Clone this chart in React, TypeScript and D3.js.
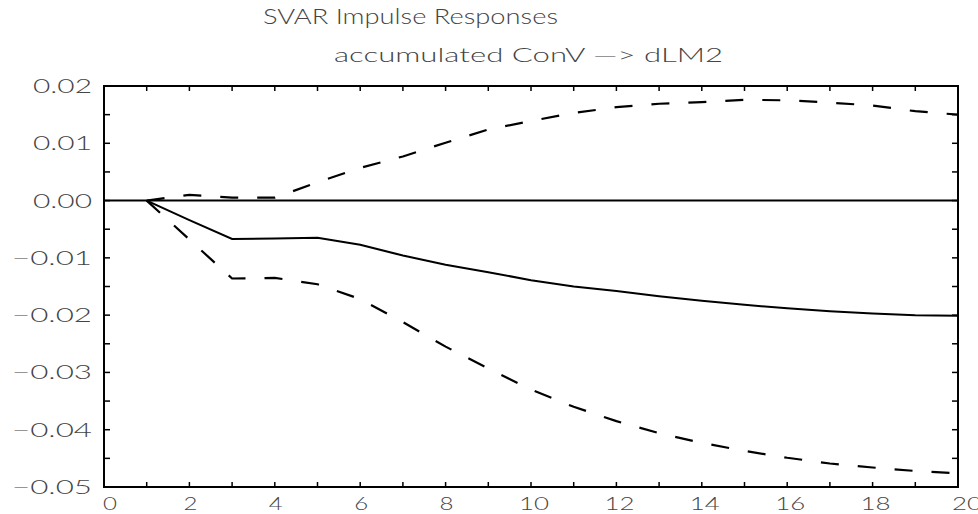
import * as d3 from "d3";
import React from "react";

// impulse response horizon (plotted positions) and estimates
const horizon = [1, 2, 3, 4, 5, 6, 7, 8, 9, 10, 11, 12, 13, 14, 15, 16, 17, 18, 19, 20];
const response = [
  0, -0.0034, -0.0067, -0.0066, -0.0065, -0.0077, -0.0096, -0.0112, -0.0125, -0.0139,
  -0.015, -0.0158, -0.0167, -0.0175, -0.0182, -0.0188, -0.0193, -0.0197, -0.02, -0.0201,
];
const lowerBand = [
  0, -0.0068, -0.0136, -0.0135, -0.0146, -0.0172, -0.0212, -0.0255, -0.0293, -0.033,
  -0.036, -0.0385, -0.0406, -0.0423, -0.0437, -0.0449, -0.0459, -0.0466, -0.0472, -0.0476,
];
const upperBand = [
  0, 0.001, 0.0005, 0.0005, 0.0032, 0.0057, 0.0077, 0.0101, 0.0124, 0.0139,
  0.0153, 0.0163, 0.0169, 0.0172, 0.0176, 0.0175, 0.0171, 0.0166, 0.0156, 0.015,
];
const xTickLabels = [0, 2, 4, 6, 8, 10, 12, 14, 16, 18, 20];
const yTickLabels = [0.02, 0.01, 0.0, -0.01, -0.02, -0.03, -0.04, -0.05];

const App = () => {
  const ref = React.useRef<SVGSVGElement>(null);

  React.useEffect(() => {
    const width = 978,
      height = 514;
    const margin = { top: 86, right: 20, bottom: 27, left: 104 };
    const svg = d3.select(ref.current);
    svg.selectAll("*").remove();
    svg.attr("width", width).attr("height", height);

    // thin, wide, letter-spaced lettering like the plotter font
    const font = "Lato, 'DejaVu Sans', sans-serif";
    const weight = 300;
    const textColor = "#444";

    const x = d3
      .scaleLinear()
      .domain([0, 20])
      .range([margin.left, width - margin.right]);
    const y = d3
      .scaleLinear()
      .domain([-0.05, 0.02])
      .range([height - margin.bottom, margin.top]);

    // titles
    svg
      .append("text")
      .attr("x", 263)
      .attr("y", 24)
      .attr("font-family", font)
      .attr("font-weight", weight)
      .attr("font-size", 21)
      .attr("fill", textColor)
      .attr("textLength", 295)
      .attr("lengthAdjust", "spacingAndGlyphs")
      .text("SVAR Impulse Responses");

    svg
      .append("text")
      .attr("x", 334)
      .attr("y", 62)
      .attr("font-family", font)
      .attr("font-weight", weight)
      .attr("font-size", 20)
      .attr("fill", textColor)
      .attr("textLength", 389)
      .attr("lengthAdjust", "spacingAndGlyphs")
      .text("accumulated ConV \u2014> dLM2");

    const x0 = x(0),
      x1 = x(20),
      y0 = y(-0.05),
      y1 = y(0.02);

    // ticks (inward, all four sides)
    const g = svg.append("g").attr("stroke", "black").attr("stroke-width", 1.5);
    d3.range(0, 21).forEach((t) => {
      g.append("line").attr("x1", x(t)).attr("x2", x(t)).attr("y1", y0).attr("y2", y0 - 5);
      g.append("line").attr("x1", x(t)).attr("x2", x(t)).attr("y1", y1).attr("y2", y1 + 5);
    });
    d3.range(-0.05, 0.0201, 0.005).forEach((t) => {
      g.append("line").attr("x1", x0).attr("x2", x0 + 6).attr("y1", y(t)).attr("y2", y(t));
      g.append("line").attr("x1", x1).attr("x2", x1 - 6).attr("y1", y(t)).attr("y2", y(t));
    });

    // frame
    svg
      .append("rect")
      .attr("x", x0)
      .attr("y", y1)
      .attr("width", x1 - x0)
      .attr("height", y0 - y1)
      .attr("fill", "none")
      .attr("stroke", "black")
      .attr("stroke-width", 2);

    // zero line
    svg
      .append("line")
      .attr("x1", x0)
      .attr("x2", x1)
      .attr("y1", y(0))
      .attr("y2", y(0))
      .attr("stroke", "black")
      .attr("stroke-width", 2);

    // y labels
    svg
      .selectAll(".ylab")
      .data(yTickLabels)
      .enter()
      .append("text")
      .attr("class", "ylab")
      .attr("x", 92)
      .attr("y", (d) => y(d) + 7)
      .attr("text-anchor", "end")
      .attr("font-family", font)
      .attr("font-weight", weight)
      .attr("font-size", 19)
      .attr("fill", textColor)
      .attr("textLength", (d) => (d < 0 ? 80 : 59))
      .attr("lengthAdjust", "spacingAndGlyphs")
      .text((d) => (d < 0 ? "\u2212" : "") + Math.abs(d).toFixed(2));

    // x labels (the last one runs off the right edge, as in the original)
    svg
      .selectAll(".xlab")
      .data(xTickLabels)
      .enter()
      .append("text")
      .attr("class", "xlab")
      .attr("x", (d) => x(d) + (d === 20 ? 9 : d >= 10 ? 3 : d === 0 ? 6 : 1))
      .attr("y", 510)
      .attr("text-anchor", "middle")
      .attr("font-family", font)
      .attr("font-weight", weight)
      .attr("font-size", 18)
      .attr("fill", textColor)
      .attr("textLength", (d) => (d >= 10 ? 30 : 14))
      .attr("lengthAdjust", "spacingAndGlyphs")
      .text((d) => String(d));

    const line = d3
      .line<number>()
      .x((_, i) => x(horizon[i]))
      .y((d) => y(d));

    svg
      .append("path")
      .datum(response)
      .attr("d", line)
      .attr("fill", "none")
      .attr("stroke", "black")
      .attr("stroke-width", 2);

    [lowerBand, upperBand].forEach((band) => {
      svg
        .append("path")
        .datum(band)
        .attr("d", line)
        .attr("fill", "none")
        .attr("stroke", "black")
        .attr("stroke-width", 2.2)
        .attr("stroke-dasharray", "18 19");
    });
  }, []);

  return (
    <svg
      ref={ref}
      style={{ position: "absolute", left: 0, top: 0, background: "white" }}
    />
  );
};

export default App;
